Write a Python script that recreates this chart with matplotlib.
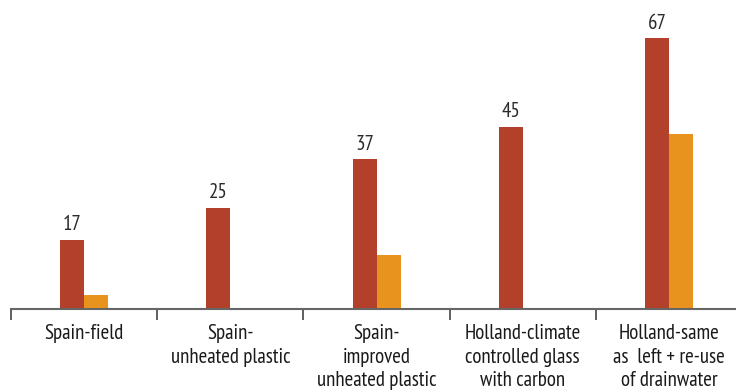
import numpy as np
import matplotlib.pyplot as plt
from matplotlib import font_manager

categories = ["Spain-field", "Spain-\nunheated plastic", "Spain-\nimproved\nunheated plastic",
              "Holland-climate\ncontrolled glass\nwith carbon", "Holland-same\nas  left + re-use\nof drainwater"]
red_values = [17, 25, 37, 45, 67]
orange_values = [3.4, 0, 13.3, 0, 43.3]

names = {f.name for f in font_manager.fontManager.ttflist}
narrow = [n for n in ["PT Sans Narrow", "Fira Sans Condensed", "Roboto Condensed"] if n in names]
plt.rcParams["font.family"] = narrow + ["DejaVu Sans"]

fig = plt.figure(figsize=(7.36, 3.92), dpi=100)
ax = fig.add_axes([0.015, 0.213, 0.985, 0.787])

x = np.arange(len(categories))
w = 0.164
ax.bar(x - w / 2, red_values, w, color="#B3402B")
ax.bar(x + w / 2, orange_values, w, color="#E8931E")

for xi, v in zip(x, red_values):
    ax.annotate(str(v), (xi - w / 2, v), xytext=(0, 4), textcoords="offset points",
                ha="center", va="bottom", fontsize=15, color="#2b2b2b")

ax.set_xlim(-0.5, 4.458)
ax.set_ylim(0, 76.5)

for s in ["top", "right", "left"]:
    ax.spines[s].set_visible(False)
ax.spines["bottom"].set_color("#666666")
ax.spines["bottom"].set_linewidth(1.5)

ax.set_yticks([])
ax.set_xticks(x)
ax.set_xticklabels(categories, fontsize=15, color="#1a1a1a", linespacing=1.32)
ax.tick_params(axis="x", which="major", length=0, pad=11)
ax.set_xticks(np.arange(-0.5, 4.0, 1.0), minor=True)
ax.tick_params(axis="x", which="minor", length=8, width=1.2, color="#444444", direction="out")

fig.savefig("out.png", dpi=100)
